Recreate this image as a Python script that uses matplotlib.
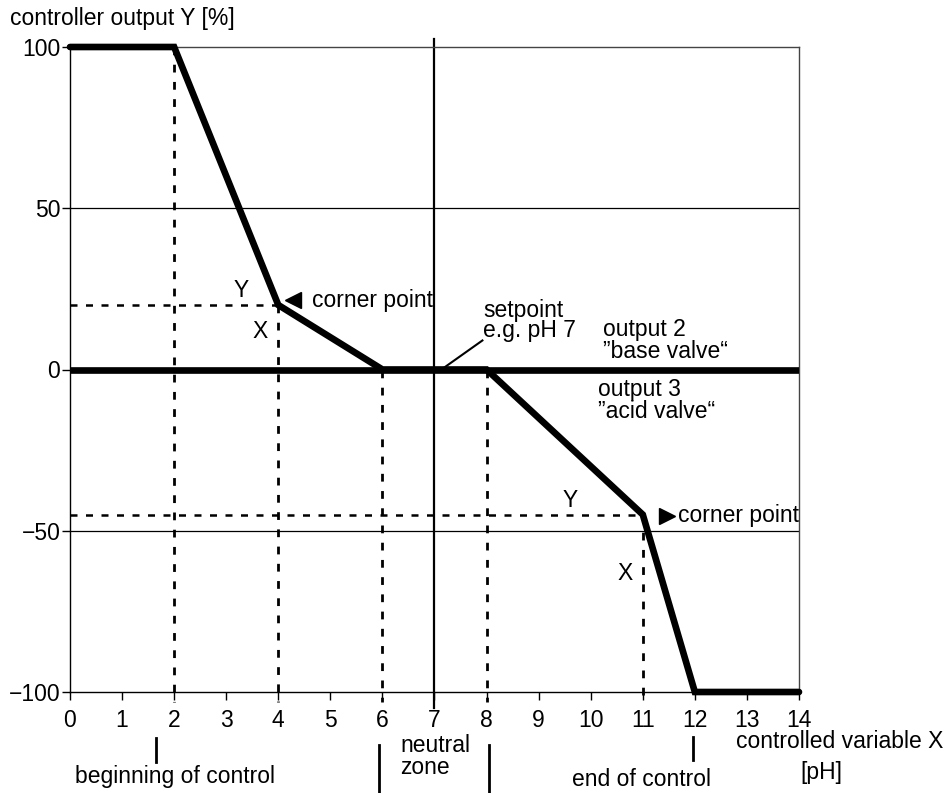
import matplotlib
matplotlib.use("Agg")
import matplotlib.pyplot as plt
from matplotlib.lines import Line2D

plt.rcParams['font.family'] = ['Liberation Sans', 'DejaVu Sans']

# data
curve_x = [0, 2, 4, 6, 8, 11, 12, 14]
curve_y = [100, 100, 20, 0, 0, -45, -100, -100]
corner_upper = (4, 20)
corner_lower = (11, -45)
guide_x = [2, 4, 6, 8, 11]
guide_y = [100, 20, 0, 0, -45]
setpoint = 7
x_ticks = list(range(0, 15))
y_ticks = [-100, -50, 0, 50, 100]
y_ticklabels = ['\u2212100', '\u221250', '0', '50', '100']

W, H = 949, 793
fig = plt.figure(figsize=(W / 100, H / 100), dpi=100)
ax = fig.add_axes([70 / W, 1 - 692 / H, (799 - 70) / W, (692 - 47) / H])
ax.set_xlim(0, 14)
ax.set_ylim(-100, 100)

FS = 16.5
DASH = (0, (2.8, 3.4))

def P(px, py):
    return (px / W, 1 - py / H)

# grid lines at +-50
for gy in (50, -50):
    ax.axhline(gy, color='black', lw=0.9, zorder=1)

# zero line (thick)
ax.axhline(0, color='black', lw=4.8, zorder=3, solid_capstyle='butt')

# setpoint vertical line
ax.plot([setpoint, setpoint], [102.5, -105], color='black', lw=1.6, clip_on=False, zorder=2)

# dashed guides
for gx, gy in zip(guide_x, guide_y):
    ax.plot([gx, gx], [gy, -103], color='black', lw=2.0, ls=DASH,
            clip_on=False, zorder=2)
ax.plot([0, corner_upper[0]], [corner_upper[1]] * 2, color='black', lw=1.8,
        ls=DASH, zorder=2)
ax.plot([0, corner_lower[0]], [corner_lower[1]] * 2, color='black', lw=1.8,
        ls=DASH, zorder=2)

# main curve
ax.plot(curve_x, curve_y, color='black', lw=4.8, solid_joinstyle='miter',
        solid_capstyle='round', clip_on=False, zorder=4)

# spines / ticks
for s in ['top', 'right']:
    ax.spines[s].set_color('#444444')
    ax.spines[s].set_linewidth(1.0)
for s in ['left', 'bottom']:
    ax.spines[s].set_color('black')
    ax.spines[s].set_linewidth(1.0)
ax.set_xticks(x_ticks)
ax.set_xticklabels([str(v) for v in x_ticks])
ax.set_yticks(y_ticks)
ax.set_yticklabels(y_ticklabels)
ax.tick_params(axis='both', direction='out', length=6, width=1.0, labelsize=FS)
ax.tick_params(axis='x', pad=6)
ax.tick_params(axis='y', pad=1)

# annotations inside
ax.text(3.28, 24.5, 'Y', fontsize=FS, ha='center', va='center')
ax.text(3.65, 11.8, 'X', fontsize=FS, ha='center', va='center')
ax.plot([4.28], [21.7], marker='<', ms=12, color='black', zorder=5)
ax.text(4.65, 21.5, 'corner point', fontsize=FS, ha='left', va='center')

ax.text(7.93, 15.2, 'setpoint\ne.g. pH 7', fontsize=FS, ha='left', va='center',
        linespacing=0.85)
ax.plot([7.16, 7.92], [0.3, 9.0], color='black', lw=1.5, zorder=5)

ax.text(10.24, 12.4, 'output 2', fontsize=FS, ha='left', va='center')
ax.text(10.24, 5.6, '\u201dbase valve\u201c', fontsize=FS, ha='left', va='center')
ax.text(10.14, -6.2, 'output 3', fontsize=FS, ha='left', va='center')
ax.text(10.14, -13.0, '\u201dacid valve\u201c', fontsize=FS, ha='left', va='center')

ax.text(9.6, -40.5, 'Y', fontsize=FS, ha='center', va='center')
ax.text(10.66, -63.4, 'X', fontsize=FS, ha='center', va='center')
ax.plot([11.47], [-45.3], marker='>', ms=12, color='black', zorder=5, clip_on=False)
ax.text(11.68, -45.3, 'corner point', fontsize=FS, ha='left', va='center',
        clip_on=False)

# outside texts
fig.text(*P(10, 18), 'controller output Y [%]', fontsize=FS, ha='left', va='center')

def vbar(px, y0, y1):
    fig.add_artist(Line2D([px / W, px / W], [1 - y0 / H, 1 - y1 / H],
                          color='black', lw=2.0))

vbar(156, 738, 762)
fig.text(*P(175, 776), 'beginning of control', fontsize=FS, ha='center', va='center')
vbar(379, 745, 793)
vbar(489, 745, 793)
fig.text(*P(400, 745), 'neutral', fontsize=FS, ha='left', va='center')
fig.text(*P(400, 767), 'zone', fontsize=FS, ha='left', va='center')
vbar(693, 737, 760)
fig.text(*P(641, 779), 'end of control', fontsize=FS, ha='center', va='center')
fig.text(*P(736, 741), 'controlled variable X', fontsize=FS, ha='left', va='center')
fig.text(*P(800, 773), '[pH]', fontsize=FS, ha='left', va='center')

fig.savefig('out.png', dpi=100)
